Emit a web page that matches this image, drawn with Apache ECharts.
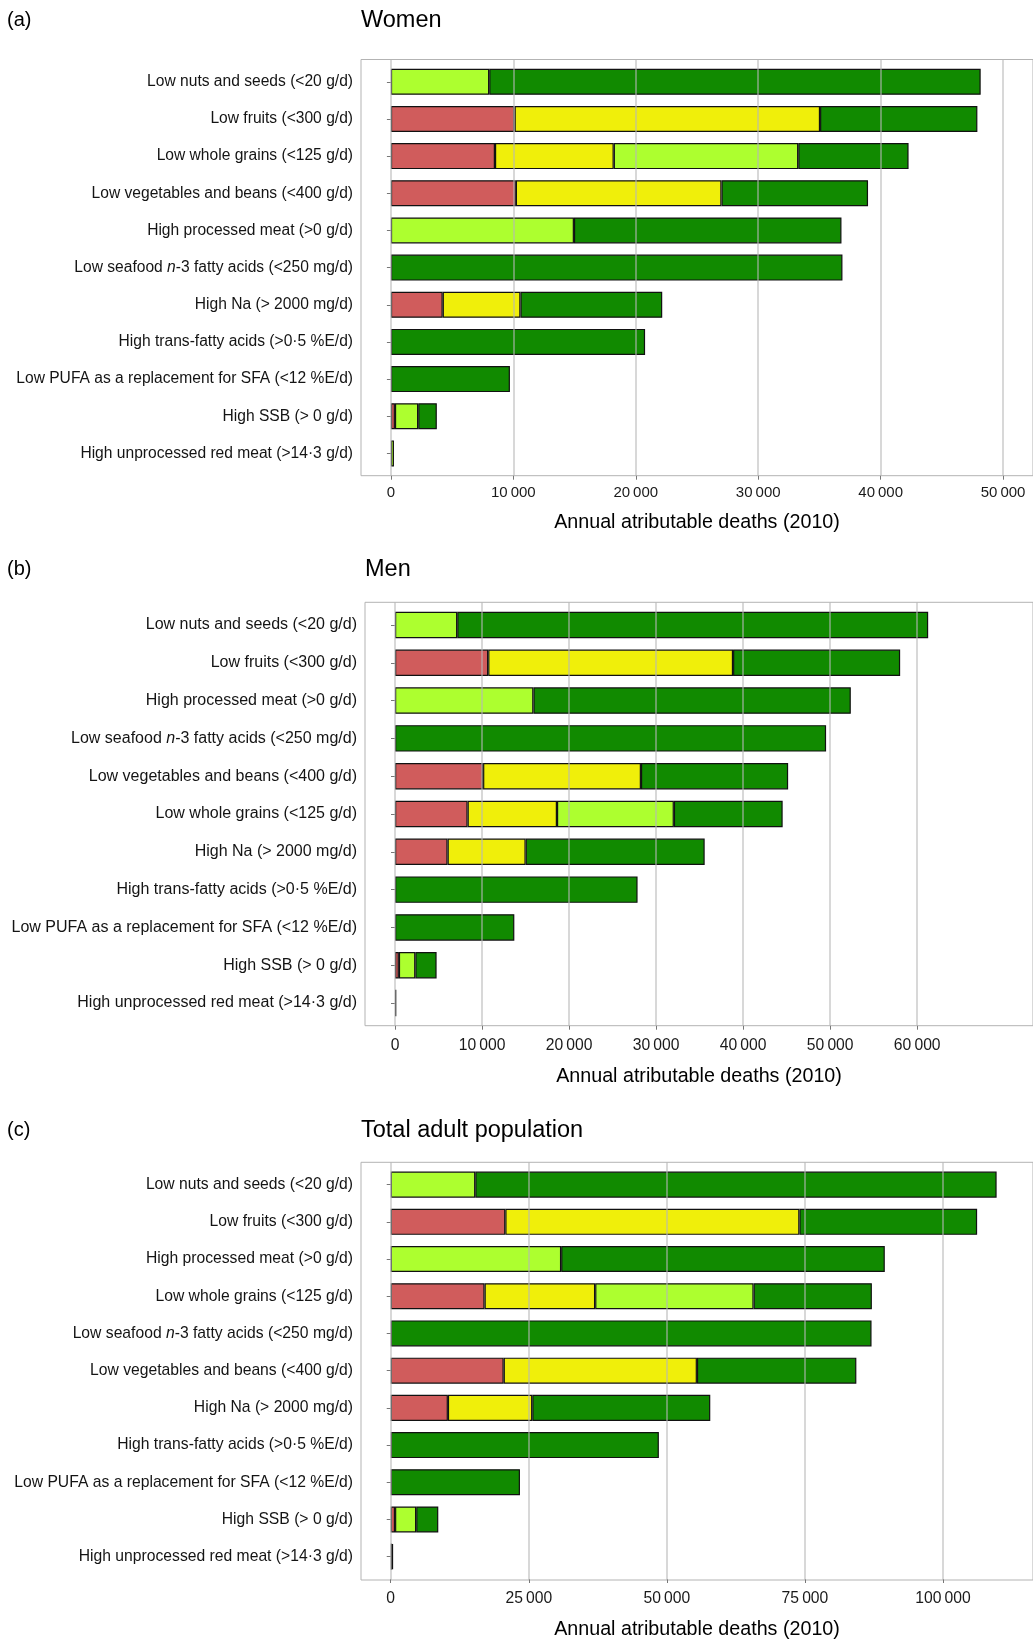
<!DOCTYPE html>
<html>
<head>
<meta charset="utf-8">
<title>Annual attributable deaths by dietary factor</title>
<script src="https://cdn.jsdelivr.net/npm/echarts@6.0.0/dist/echarts.min.js"></script>
<style>
  html, body { margin: 0; padding: 0; background: #fff; }
  #chart { width: 1033px; height: 1641px; }
</style>
</head>
<body>
<div id="chart"></div>
<script>
  // ---- data (top row first) ----
  var catsWomen = [
    'Low nuts and seeds (<20 g/d)',
    'Low fruits (<300 g/d)',
    'Low whole grains (<125 g/d)',
    'Low vegetables and beans (<400 g/d)',
    'High processed meat (>0 g/d)',
    'Low seafood n-3 fatty acids (<250 mg/d)',
    'High Na (> 2000 mg/d)',
    'High trans-fatty acids (>0·5 %E/d)',
    'Low PUFA as a replacement for SFA (<12 %E/d)',
    'High SSB (> 0 g/d)',
    'High unprocessed red meat (>14·3 g/d)'
  ];
  var womenRed    = [0, 10100, 8500, 10200, 0, 0, 4230, 0, 0, 330, 0];
  var womenYellow = [0, 24950, 9700, 16800, 0, 0, 6350, 0, 0, 0, 0];
  var womenLight  = [8030, 0, 15070, 0, 14950, 0, 0, 0, 0, 1900, 250];
  var womenDark   = [40140, 12850, 9010, 11970, 21850, 36880, 11580, 20760, 9720, 1520, 0];

  var catsMen = [
    'Low nuts and seeds (<20 g/d)',
    'Low fruits (<300 g/d)',
    'High processed meat (>0 g/d)',
    'Low seafood n-3 fatty acids (<250 mg/d)',
    'Low vegetables and beans (<400 g/d)',
    'Low whole grains (<125 g/d)',
    'High Na (> 2000 mg/d)',
    'High trans-fatty acids (>0·5 %E/d)',
    'Low PUFA as a replacement for SFA (<12 %E/d)',
    'High SSB (> 0 g/d)',
    'High unprocessed red meat (>14·3 g/d)'
  ];
  var menRed    = [0, 10710, 0, 0, 10120, 8340, 6040, 0, 0, 445, 0];
  var menYellow = [0, 28130, 0, 0, 18140, 10270, 8970, 0, 0, 0, 0];
  var menLight  = [7150, 0, 15900, 0, 0, 13430, 0, 0, 0, 1890, 0];
  var menDark   = [54110, 19200, 36470, 49530, 16910, 12500, 20570, 27870, 13710, 2445, 150];

  var catsTotal = [
    'Low nuts and seeds (<20 g/d)',
    'Low fruits (<300 g/d)',
    'High processed meat (>0 g/d)',
    'Low whole grains (<125 g/d)',
    'Low seafood n-3 fatty acids (<250 mg/d)',
    'Low vegetables and beans (<400 g/d)',
    'High Na (> 2000 mg/d)',
    'High trans-fatty acids (>0·5 %E/d)',
    'Low PUFA as a replacement for SFA (<12 %E/d)',
    'High SSB (> 0 g/d)',
    'High unprocessed red meat (>14·3 g/d)'
  ];
  var totalRed    = [0, 20750, 0, 16990, 0, 20450, 10350, 0, 0, 780, 0];
  var totalYellow = [0, 53250, 0, 20030, 0, 34990, 15280, 0, 0, 0, 0];
  var totalLight  = [15310, 0, 30860, 28680, 0, 0, 0, 0, 0, 3830, 250];
  var totalDark   = [94400, 32180, 58600, 21420, 87060, 28870, 32230, 48550, 23400, 4000, 150];

  var ticksWomen = [0, 10000, 20000, 30000, 40000, 50000];
  var ticksMen   = [0, 10000, 20000, 30000, 40000, 50000, 60000];
  var ticksTotal = [0, 25000, 50000, 75000, 100000];

  var xTitle = 'Annual atributable deaths (2010)';

  // ---- look ----
  var FONT = '"Liberation Sans", Arial, Helvetica, sans-serif';
  var segColors = ['#D05C5C', '#F0EF0A', '#ADFF2F', '#118A00'];

  var panels = [
    { letter: '(a)', title: 'Women', cats: catsWomen, ticks: ticksWomen,
      segs: [womenRed, womenYellow, womenLight, womenDark],
      box: { left: 361, top: 59.5, width: 674, height: 416.2 },
      min: -2443, max: 52443, titleTop: 9, catFont: 15.6, tickFont: 15,
      tickMargin: 10, nameGap: 37 },
    { letter: '(b)', title: 'Men', cats: catsMen, ticks: ticksMen,
      segs: [menRed, menYellow, menLight, menDark],
      box: { left: 365, top: 602.3, width: 690, height: 423.4 },
      min: -3448, max: 73304, titleTop: 558, catFont: 16, tickFont: 15.7,
      tickMargin: 12, nameGap: 40.5 },
    { letter: '(c)', title: 'Total adult population', cats: catsTotal, ticks: ticksTotal,
      segs: [totalRed, totalYellow, totalLight, totalDark],
      box: { left: 361, top: 1162.3, width: 678, height: 417.7 },
      min: -5384, max: 116296, titleTop: 1119, catFont: 15.7, tickFont: 15.7,
      tickMargin: 11.5, nameGap: 41 }
  ];

  function fmtTick(v) {
    return v === 0 ? '0' : String(v).replace(/\B(?=(\d{3})+(?!\d))/g, '\u2009');
  }

  var option = {
    animation: false,
    backgroundColor: '#fff',
    title: [],
    grid: [],
    xAxis: [],
    yAxis: [],
    series: []
  };

  panels.forEach(function (p, i) {
    var g = i * 2;
    // ggplot style: 0.6 category padding at each end
    var pad = p.box.height / 11.2 * 0.1;

    option.title.push({
      text: p.letter, left: 7, top: p.titleTop + 1, padding: 0,
      textStyle: { fontSize: 20, fontWeight: 'normal', color: '#000', fontFamily: FONT }
    });
    option.title.push({
      text: p.title, left: p.box.left, top: p.titleTop, padding: 0,
      textStyle: { fontSize: 23.5, fontWeight: 'normal', color: '#000', fontFamily: FONT }
    });

    // inner grid holds the bars
    option.grid.push({
      left: p.box.left, top: p.box.top + pad,
      width: p.box.width, height: p.box.height - 2 * pad, show: false
    });
    // outer grid draws the panel box and grid lines
    option.grid.push({
      left: p.box.left, top: p.box.top, width: p.box.width, height: p.box.height,
      show: true, borderColor: '#b3b3b3', borderWidth: 1, backgroundColor: 'transparent'
    });

    option.xAxis.push({
      gridIndex: g, type: 'value', min: p.min, max: p.max, offset: pad,
      axisLine: { show: false },
      splitLine: { show: false },
      axisTick: { show: true, customValues: p.ticks, length: 4, lineStyle: { color: '#777' } },
      axisLabel: {
        customValues: p.ticks, formatter: fmtTick, margin: p.tickMargin,
        fontSize: p.tickFont, color: '#1a1a1a', fontFamily: FONT
      },
      name: xTitle, nameLocation: 'middle', nameGap: p.nameGap,
      nameTextStyle: { fontSize: 19.7, color: '#000', fontFamily: FONT }
    });
    option.xAxis.push({
      gridIndex: g + 1, type: 'value', min: p.min, max: p.max,
      axisLine: { show: false }, axisTick: { show: false },
      axisLabel: { show: false }, splitLine: { show: false }
    });

    option.yAxis.push({
      gridIndex: g, type: 'category', data: p.cats, inverse: true,
      axisLine: { show: false },
      axisTick: { show: true, alignWithLabel: true, length: 4, lineStyle: { color: '#777' } },
      axisLabel: {
        margin: 8, fontSize: p.catFont, color: '#141414', fontFamily: FONT,
        formatter: function (v) { return v.replace('n-3', '{it|n}-3'); },
        rich: { it: { fontStyle: 'italic', fontSize: p.catFont, color: '#141414', fontFamily: FONT } }
      }
    });
    option.yAxis.push({
      gridIndex: g + 1, type: 'value', min: 0, max: 1, show: false
    });

    p.segs.forEach(function (vals, k) {
      option.series.push({
        type: 'bar', stack: 'panel' + i, xAxisIndex: g, yAxisIndex: g,
        barWidth: '70%', silent: true,
        itemStyle: { color: segColors[k], borderColor: '#111', borderWidth: 1.2 },
        data: vals.map(function (v) { return v === 0 ? '-' : v; })
      });
    });

    // vertical grid lines, drawn over the bars as in the original figure
    option.series.push({
      type: 'line', xAxisIndex: g + 1, yAxisIndex: g + 1, data: [],
      zlevel: 1, z: 10, silent: true,
      markLine: {
        silent: true, zlevel: 1, z: 10, symbol: ['none', 'none'], label: { show: false },
        lineStyle: { type: 'solid', color: 'rgba(185,185,185,0.72)', width: 1.5 },
        data: p.ticks.map(function (v) { return { xAxis: v }; })
      }
    });
  });

  var chart = echarts.init(document.getElementById('chart'), null, { renderer: 'canvas' });
  chart.setOption(option);
  window.addEventListener('resize', function () { chart.resize(); });
</script>
</body>
</html>
